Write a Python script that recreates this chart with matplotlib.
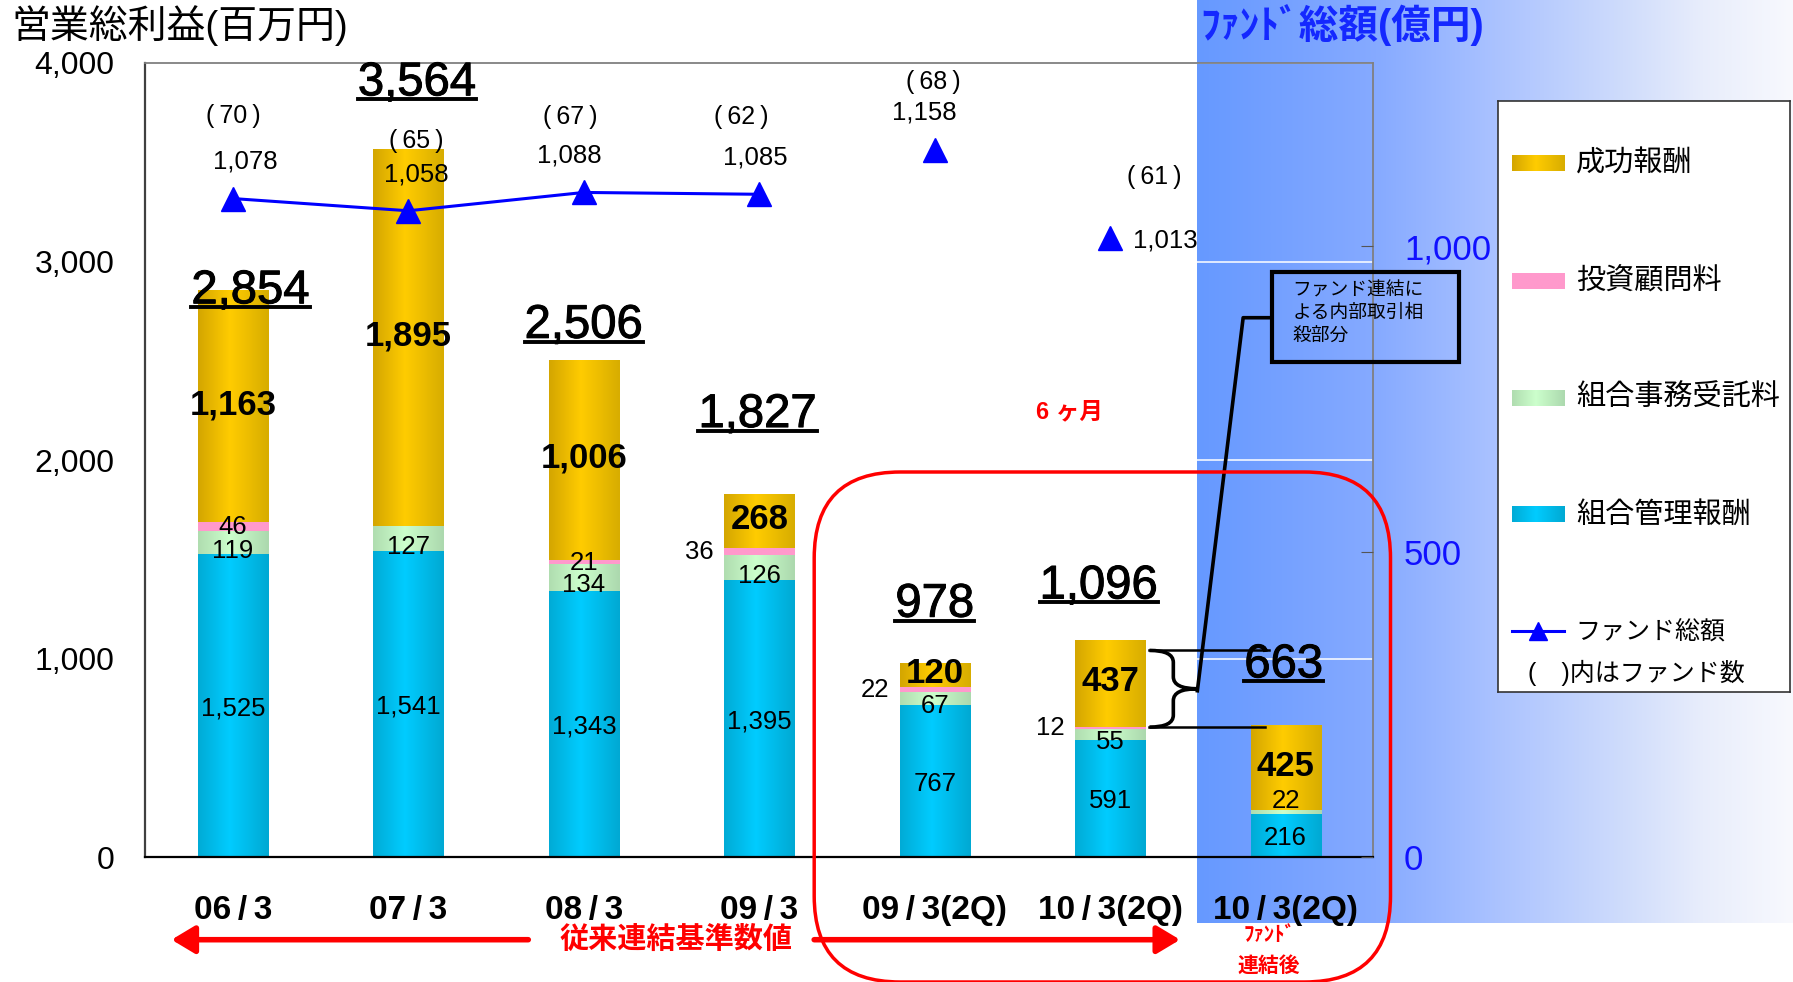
import numpy as np
import matplotlib
matplotlib.use("Agg")
import matplotlib.pyplot as plt
import matplotlib.patheffects as pe
from matplotlib.colors import LinearSegmentedColormap
from matplotlib.patches import FancyBboxPatch, Rectangle, PathPatch, FancyArrowPatch
from matplotlib.path import Path
from matplotlib.lines import Line2D

plt.rcParams['font.family'] = ['Liberation Sans', 'Noto Sans CJK JP', 'DejaVu Sans']

# data
periods = ["06/3", "07/3", "08/3", "09/3", "09/3(2Q)", "10/3(2Q)", "10/3(2Q)"]
mgmt_fee = np.array([1525, 1541, 1343, 1395, 767, 591, 216])      # 組合管理報酬
admin_fee = np.array([119, 127, 134, 126, 67, 55, 22])            # 組合事務受託料
advisory_fee = np.array([46, 0, 21, 36, 22, 12, 0])               # 投資顧問料
success_fee = np.array([1163, 1895, 1006, 268, 120, 437, 425])    # 成功報酬
totals = [2854, 3564, 2506, 1827, 978, 1096, 663]
fund_total = [1078, 1058, 1088, 1085, 1158, 1013]                 # ファンド総額(億円)
fund_count = [70, 65, 67, 62, 68, 61]
n_linked = 4   # only the first four fund points are joined by the line

# layout helpers (reference measured on a 1568x859 view)
SW, SH = 1568.0, 859.0
def fx(px):
    return px / SW
def fy(py):
    return 1 - py / SH

fig = plt.figure(figsize=(17.93, 9.82), dpi=100)

# blue gradient background on the right
bg = fig.add_axes([0, 0, 1, 1], zorder=-5)
blue = LinearSegmentedColormap.from_list('blue', [(0, '#6699FF'), (0.3, '#86AAFF'), (0.5, '#AAC2FF'),
                                                  (0.7, '#CCDAFC'), (0.85, '#E8EDFB'), (1, '#F8F9FE')])
bg.imshow(np.linspace(0, 1, 256)[None, :], cmap=blue, extent=[fx(1047), 1, fy(807), 1],
          aspect='auto', interpolation='bicubic')
bg.set_xlim(0, 1)
bg.set_ylim(0, 1)
bg.axis('off')

ax = fig.add_axes([fx(127), fy(750), fx(1201) - fx(127), fy(55) - fy(750)])
ax.set_facecolor('none')

def grad_cmap(dark_l, light, dark_r):
    return LinearSegmentedColormap.from_list('g', [(0, dark_l), (0.45, light), (1, dark_r)])

cm_cyan = grad_cmap('#00ABD6', '#00CCFF', '#00A9D3')
cm_green = grad_cmap('#B0DDB0', '#CCFFCC', '#ACD9AE')
cm_pink = grad_cmap('#FF99CC', '#FF99CC', '#FF99CC')
cm_gold = grad_cmap('#D4A600', '#FFCC00', '#D8AD00')
grad = np.linspace(0, 1, 64)[None, :]

x = np.arange(len(periods))
bw = 0.4
bottom = np.zeros(len(periods))
for vals, cm in [(mgmt_fee, cm_cyan), (admin_fee, cm_green), (advisory_fee, cm_pink), (success_fee, cm_gold)]:
    bars = ax.bar(x, vals, bw, bottom=bottom, color=cm(0.45), zorder=2)
    for b in bars:
        if b.get_height() <= 0:
            continue
        ax.imshow(grad, cmap=cm, extent=[b.get_x(), b.get_x() + b.get_width(), b.get_y(), b.get_y() + b.get_height()],
                  aspect='auto', interpolation='bicubic', zorder=2.5)
    bottom = bottom + vals

ax.set_xlim(-0.5, 6.5)
ax.set_ylim(0, 4000)
ax.set_yticks([0, 1000, 2000, 3000, 4000])
ax.set_yticklabels(["0", "1,000", "2,000", "3,000", "4,000"])
ax.yaxis.grid(True, color='white', lw=1.3, alpha=0.85)
ax.set_axisbelow(True)
ax.tick_params(axis='y', length=0, pad=22, labelsize=23)
ax.set_xticks(x)
ax.set_xticklabels([p.replace("/", "\u2009/\u2009") for p in periods], fontsize=24, fontweight='bold')
ax.tick_params(axis='x', length=0, pad=27)
ax.spines['left'].set_color('#404040')
ax.spines['left'].set_linewidth(1.6)
ax.spines['bottom'].set_color('black')
ax.spines['bottom'].set_linewidth(1.6)
for s in ['top', 'right']:
    ax.spines[s].set_color('#808080')
    ax.spines[s].set_linewidth(1.3)

# segment labels
c1 = mgmt_fee
c2 = c1 + admin_fee
c3 = c2 + advisory_fee
for i in x:
    ax.text(i, c1[i] / 2 - 12, f"{mgmt_fee[i]:,}", ha='center', va='center', fontsize=18.5, zorder=6)
    if i < 6:
        ax.text(i, c1[i] + admin_fee[i] / 2 - 40, f"{admin_fee[i]:,}", ha='center', va='center', fontsize=18.5, zorder=6)
    else:
        ax.text(i, c2[i] + 45, f"{admin_fee[i]:,}", ha='center', va='center', fontsize=18.5, zorder=6)
    if advisory_fee[i] > 0:
        if i < 3:
            ax.text(i, c2[i] + advisory_fee[i] / 2 - 5, f"{advisory_fee[i]}", ha='center', va='center', fontsize=18.5, zorder=6)
        else:
            ax.text(i - 0.34, c2[i] + advisory_fee[i] / 2, f"{advisory_fee[i]}", ha='center', va='center', fontsize=18.5, zorder=6)
    ax.text(i, c3[i] + success_fee[i] / 2 + 8, f"{success_fee[i]:,}", ha='center', va='center',
            fontsize=25, fontweight='bold', zorder=6)

# totals (underlined)
tot_dx = [0.1, 0.05, 0, -0.01, 0, -0.065, -0.01]
tot_dy = [-4, 333, 170, 400, 294, 268, 304]
tot_texts = []
for i in x:
    t = ax.text(i + tot_dx[i], totals[i] + tot_dy[i], f"{totals[i]:,}", ha='center', va='center',
                fontsize=34, zorder=7, path_effects=[pe.withStroke(linewidth=0.7, foreground='black')])
    tot_texts.append(t)

# fund totals on right axis
ax2 = ax.twinx()
ax2.set_ylim(0, 1300)
ax2.set_yticks([0, 500, 1000])
ax2.set_yticklabels(["0", "500", "1,000"], color='#1010FF', fontsize=25)
ax2.tick_params(axis='y', direction='in', length=9, pad=22, color='#555555')
for s in ax2.spines.values():
    s.set_visible(False)
ax2.plot(x[:n_linked], fund_total[:n_linked], color='#0000FF', lw=2.2, marker='^', ms=17, zorder=4)
ax2.plot(x[n_linked:len(fund_total)], fund_total[n_linked:], ls='none', color='#0000FF', marker='^', ms=17, zorder=4)

num_dx = [0.07, 0.046, -0.08, -0.02, -0.06]
cnt_dx = [0.0, 0.046, -0.08, -0.1, -0.007]
cnt_dy = [135, 114, 123, 127, 110]
for i in range(len(fund_total)):
    v = fund_total[i]
    cnt = f"(\u2009{fund_count[i]}\u2009)"
    if i < 5:
        ax2.text(i + num_dx[i], v + 60, f"{v:,}", ha='center', va='center', fontsize=18.5, zorder=7)
        ax2.text(i + cnt_dx[i], v + cnt_dy[i], cnt, ha='center', va='center', fontsize=18, zorder=7)
    else:
        ax2.text(i + 0.13, v - 4, f"{v:,}", ha='left', va='center', fontsize=18.5, zorder=7)
        ax2.text(i + 0.25, v + 101, cnt, ha='center', va='center', fontsize=18, zorder=7)

# brace + leader + note box (left-axis data units)
bx0, bxm, bxt = 5.224, 5.36, 5.497
ytop, ybot = 1042, 656
ymid = (ytop + ybot) / 2
a = 60
verts = [(bx0, ytop), (bxm, ytop), (bxm, ytop - a), (bxm, ymid + a), (bxm, ymid), (bxt, ymid),
         (bxm, ymid), (bxm, ymid - a), (bxm, ybot + a), (bxm, ybot), (bx0, ybot)]
codes = [Path.MOVETO, Path.CURVE3, Path.CURVE3, Path.LINETO, Path.CURVE3, Path.CURVE3,
         Path.CURVE3, Path.CURVE3, Path.LINETO, Path.CURVE3, Path.CURVE3]
ax.add_patch(PathPatch(Path(verts, codes), fill=False, lw=2.6, ec='black', zorder=8, clip_on=False))
ax.plot([bx0, 5.908], [ytop, ytop], color='black', lw=1.8, zorder=8, clip_on=False)
ax.plot([bx0, 5.882], [ybot, ybot], color='black', lw=1.8, zorder=8, clip_on=False)
ax.plot([bxt, 5.758, 5.921], [ymid - 10, 2717, 2717], color='black', lw=2.6, zorder=8, clip_on=False)
ax.add_patch(Rectangle((5.921, 2492), 1.07, 455, fill=False, lw=3, ec='black', zorder=8, clip_on=False))
ax.text(6.04, 2895, "ファンド連結に\nよる内部取引相\n殺部分", ha='left', va='top', fontsize=13.5,
        linespacing=1.4, zorder=8, clip_on=False)

ax.text(4.77, 2245, "6 ヶ月", color='#FF0000', fontsize=17, fontweight='bold', ha='center', va='center')

# titles
fig.text(fx(10), fy(22), "営業総利益(百万円)", fontsize=28, ha='left', va='center')
fig.text(fx(1050), fy(22), "ﾌｧﾝﾄﾞ総額(億円)", fontsize=28.5, fontweight='bold', color='#1428FF',
         ha='left', va='center')

# red rounded frame (inches)
frame = FancyBboxPatch((8.142, 0.0), 13.905 - 8.142, 5.10, boxstyle='round,pad=0,rounding_size=0.86',
                       transform=fig.dpi_scale_trans, fill=False, ec='#FF0000', lw=2.5, zorder=10)
fig.add_artist(frame)

# red arrows and captions
for tail, head in [(462, 150), (712, 1032)]:
    fig.add_artist(FancyArrowPatch((fx(tail), fy(822)), (fx(head), fy(822)), transform=fig.transFigure,
                                   arrowstyle='-|>,head_length=0.5,head_width=0.3', mutation_scale=28,
                                   color='#FF0000', lw=4, shrinkA=0, shrinkB=0))
fig.text(fx(591), fy(822), "従来連結基準数値", color='#FF0000', fontsize=21, fontweight='bold',
         ha='center', va='center')
fig.text(fx(1110), fy(818), "ﾌｧﾝﾄﾞ", color='#FF0000', fontsize=15, fontweight='bold', ha='center', va='center')
fig.text(fx(1110), fy(845), "連結後", color='#FF0000', fontsize=15, fontweight='bold', ha='center', va='center')

# legend box
lg = fig.add_axes([fx(1310), fy(605), fx(1565) - fx(1310), fy(88) - fy(605)], zorder=5)
lg.set_facecolor('white')
lg.set_xticks([])
lg.set_yticks([])
for s in lg.spines.values():
    s.set_color('#333333')
    s.set_linewidth(1.2)
leg_names = ["成功報酬", "投資顧問料", "組合事務受託料", "組合管理報酬"]
leg_cmaps = [cm_gold, cm_pink, cm_green, cm_cyan]
leg_y = [0.8936, 0.6944, 0.4971, 0.2998]
for name, cm, yy in zip(leg_names, leg_cmaps, leg_y):
    lg.imshow(grad, cmap=cm, extent=[0.047, 0.2275, yy - 0.0135, yy + 0.0135], aspect='auto', interpolation='bicubic')
    lg.text(0.267, yy, name, fontsize=21, ha='left', va='center')
lg.plot([0.047, 0.2275], [0.1025, 0.1025], color='#0000FF', lw=2.2)
lg.plot([0.137], [0.1025], ls='none', marker='^', color='#0000FF', ms=13)
lg.text(0.267, 0.1025, "ファンド総額", fontsize=18, ha='left', va='center')
lg.text(0.102, 0.0309, "(　)内はファンド数", fontsize=18, ha='left', va='center')
lg.set_xlim(0, 1)
lg.set_ylim(0, 1)

# underline the totals
fig.canvas.draw()
r = fig.canvas.get_renderer()
inv = fig.transFigure.inverted()
for t in tot_texts:
    bb = t.get_window_extent(r)
    yl = bb.y0 + 0.14 * bb.height
    (x0, y0), (x1, _) = inv.transform([(bb.x0, yl), (bb.x1, yl)])
    fig.add_artist(Line2D([x0, x1], [y0, y0], transform=fig.transFigure, color='black', lw=2.8, zorder=9))

fig.savefig("out.png", dpi=100)
